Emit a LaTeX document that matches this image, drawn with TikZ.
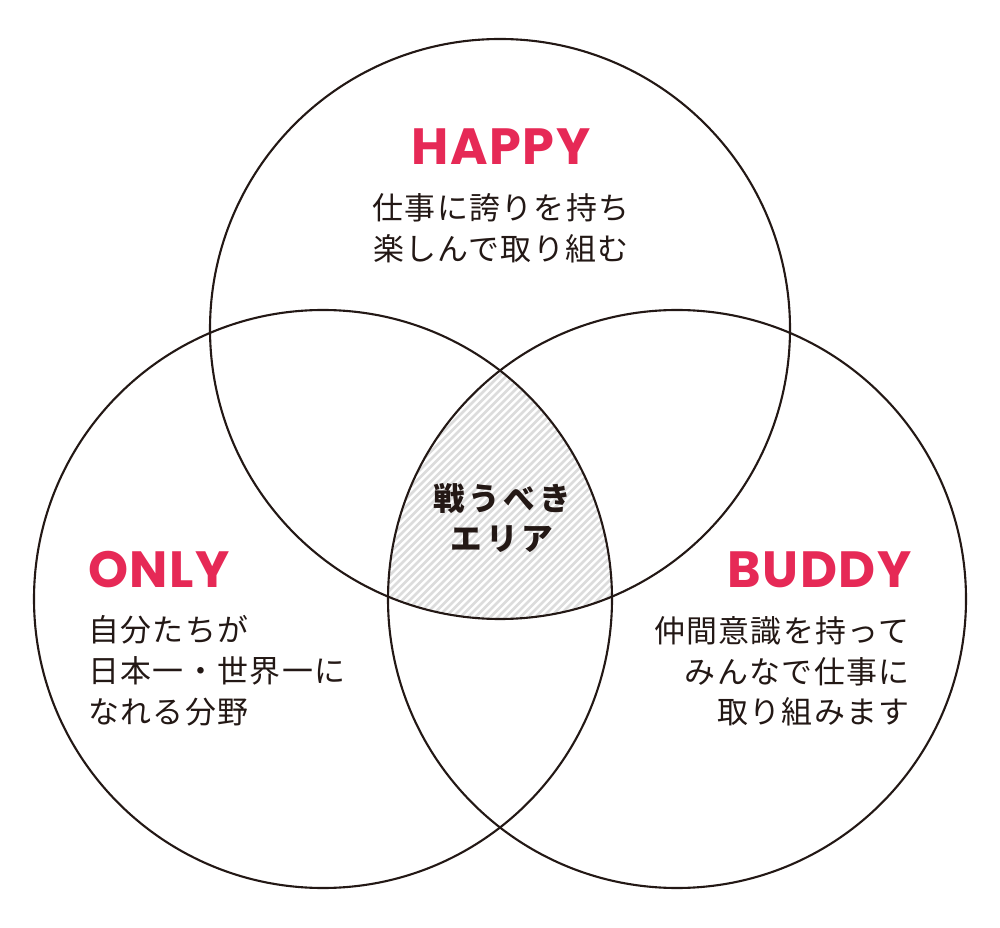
\documentclass[tikz,border=0pt]{standalone}
\usepackage{fontspec}
\usepackage{xcolor}
\usepackage{tikz}
\newfontfamily\jpfont{Noto Sans CJK JP}[LetterSpace=4.5]
\newfontfamily\jpcorefont{Noto Sans CJK JP}[LetterSpace=12]
\newfontfamily\headfont{Poppins}[LetterSpace=3]
\definecolor{accentRed}{RGB}{230, 41, 86}
\definecolor{inkDark}{RGB}{35, 24, 21}
\definecolor{hatchGray}{RGB}{220, 220, 220}
\usetikzlibrary{positioning}

\begin{document}
\begin{tikzpicture}[
    x=0.02cm, y=-0.02cm,
    ring/.style={draw=inkDark, line width=1.2pt},
    headword/.style={font=\headfont\bfseries\fontsize{29}{29}\selectfont, text=accentRed, inner sep=0},
    body/.style={font=\jpfont\fontsize{17.6}{23.2}\selectfont, text=inkDark, inner sep=0},
    core/.style={font=\jpcorefont\bfseries\fontsize{18}{22.7}\selectfont, text=inkDark, inner sep=0, align=center}
]
    \useasboundingbox (0,0) rectangle (1000,928);
    \coordinate (happyC) at (500,329);
    \coordinate (onlyC) at (323,599);
    \coordinate (buddyC) at (677,599);

    % hatched centre
    \begin{scope}
        \clip (happyC) circle (290);
        \clip (onlyC) circle (289);
        \clip (buddyC) circle (289);
        \foreach \c in {740,747.5,...,1230}
            \draw[hatchGray, line width=1.5pt] (\c-340,340) -- (\c-630,630);
    \end{scope}

    \draw[ring] (happyC) circle (290);
    \draw[ring] (onlyC) circle (289);
    \draw[ring] (buddyC) circle (289);

    \node[headword, anchor=base] (happy) at (501,165) {HAPPY};
    \node[body, align=center, anchor=north] (happytext) at (501,193) {仕事に誇りを持ち\\楽しんで取り組む};

    \node[headword, anchor=base west] (only) at (88,587) {ONLY};
    \node[body, align=left, anchor=north west] (onlytext) at (88,615) {自分たちが\\日本一・世界一に\\なれる分野};

    \node[headword, anchor=base east] (buddy) at (912,587) {BUDDY};
    \node[body, align=right, anchor=north east] (buddytext) at (910,616) {仲間意識を持って\\みんなで仕事に\\取り組みます};

    \node[core, anchor=north] (area) at (502,483) {戦うべき\\エリア};
\end{tikzpicture}
\end{document}
